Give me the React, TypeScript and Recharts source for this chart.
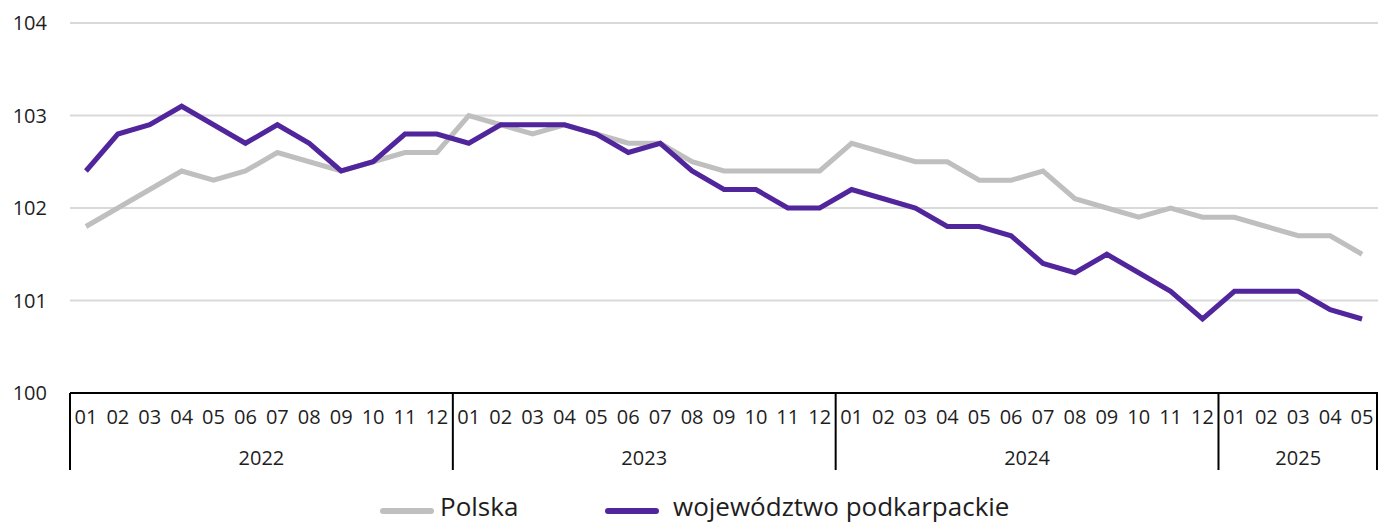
import React from "react";
import { LineChart, Line, XAxis, YAxis, CartesianGrid, Legend } from "recharts";

const categories = [
  "2022-01", "2022-02", "2022-03", "2022-04", "2022-05", "2022-06", "2022-07", "2022-08", "2022-09", "2022-10", "2022-11", "2022-12",
  "2023-01", "2023-02", "2023-03", "2023-04", "2023-05", "2023-06", "2023-07", "2023-08", "2023-09", "2023-10", "2023-11", "2023-12",
  "2024-01", "2024-02", "2024-03", "2024-04", "2024-05", "2024-06", "2024-07", "2024-08", "2024-09", "2024-10", "2024-11", "2024-12",
  "2025-01", "2025-02", "2025-03", "2025-04", "2025-05",
];

const polska = [
  101.8, 102.0, 102.2, 102.4, 102.3, 102.4, 102.6, 102.5, 102.4, 102.5, 102.6, 102.6,
  103.0, 102.9, 102.8, 102.9, 102.8, 102.7, 102.7, 102.5, 102.4, 102.4, 102.4, 102.4,
  102.7, 102.6, 102.5, 102.5, 102.3, 102.3, 102.4, 102.1, 102.0, 101.9, 102.0, 101.9,
  101.9, 101.8, 101.7, 101.7, 101.5,
];

const podkarpackie = [
  102.4, 102.8, 102.9, 103.1, 102.9, 102.7, 102.9, 102.7, 102.4, 102.5, 102.8, 102.8,
  102.7, 102.9, 102.9, 102.9, 102.8, 102.6, 102.7, 102.4, 102.2, 102.2, 102.0, 102.0,
  102.2, 102.1, 102.0, 101.8, 101.8, 101.7, 101.4, 101.3, 101.5, 101.3, 101.1, 100.8,
  101.1, 101.1, 101.1, 100.9, 100.8,
];

const yTicks = [100, 101, 102, 103, 104];
const seriesNames = ["Polska", "województwo podkarpackie"];
const seriesColors = ["#bfbfbf", "#51259b"];

const data = categories.map((c, i) => ({
  cat: c,
  month: c.slice(5),
  year: c.slice(0, 4),
  polska: polska[i],
  podkarpackie: podkarpackie[i],
}));

const W = 1379;
const H = 522;
const LEFT = 70;
const RIGHT = 1;
const BAND = (W - LEFT - RIGHT) / categories.length;
const FONT = "'Open Sans', 'Liberation Sans', sans-serif";
const TEXT = "#1e1e1e";

const yearFirst: Record<string, number> = {};
const yearCount: Record<string, number> = {};
data.forEach((d, i) => {
  if (yearFirst[d.year] === undefined) yearFirst[d.year] = i;
  yearCount[d.year] = (yearCount[d.year] || 0) + 1;
});

function XTick(props: any) {
  const { x, y, payload } = props;
  const i = payload && payload.index !== undefined ? payload.index : props.index;
  const d = data[i];
  if (!d) return null;
  const isFirst = yearFirst[d.year] === i;
  const isLast = i === data.length - 1;
  const lineLen = 77;
  return (
    <g>
      <text x={x} y={y + 31} textAnchor="middle" fontSize={20} fontFamily={FONT} fill={TEXT}>
        {d.month}
      </text>
      {isFirst && (
        <>
          <line x1={x - BAND / 2} x2={x - BAND / 2} y1={y} y2={y + lineLen} stroke="#000" strokeWidth={2} />
          <text
            x={x + ((yearCount[d.year] - 1) / 2) * BAND}
            y={y + 72}
            textAnchor="middle"
            fontSize={20}
            fontFamily={FONT}
            fill={TEXT}
          >
            {d.year}
          </text>
        </>
      )}
      {isLast && (
        <line x1={x + BAND / 2 - 1} x2={x + BAND / 2 - 1} y1={y} y2={y + lineLen} stroke="#000" strokeWidth={2} />
      )}
    </g>
  );
}

function YTick(props: any) {
  const { y, payload } = props;
  return (
    <text x={47} y={y} dy="0.36em" textAnchor="end" fontSize={20} fontFamily={FONT} fill={TEXT}>
      {payload.value}
    </text>
  );
}

function LegendContent() {
  const items = [
    { name: seriesNames[0], color: seriesColors[0], lineLeft: 380, textLeft: 440 },
    { name: seriesNames[1], color: seriesColors[1], lineLeft: 605, textLeft: 673 },
  ];
  return (
    <div style={{ position: "relative", width: W, height: 39 }}>
      {items.map((it) => (
        <React.Fragment key={it.name}>
          <div
            style={{
              position: "absolute",
              left: it.lineLeft,
              top: 25,
              width: 54,
              height: 6,
              borderRadius: 3,
              background: it.color,
            }}
          />
          <div
            style={{
              position: "absolute",
              left: it.textLeft,
              top: 8,
              fontFamily: FONT,
              fontSize: 26,
              lineHeight: "30px",
              color: TEXT,
              whiteSpace: "nowrap",
            }}
          >
            {it.name}
          </div>
        </React.Fragment>
      ))}
    </div>
  );
}

export default function App() {
  return (
    <div style={{ position: "absolute", left: 0, top: 0, width: W, height: H, background: "#fff" }}>
      <LineChart width={W} height={H} data={data} margin={{ top: 23, right: RIGHT, left: 0, bottom: 0 }}>
        <CartesianGrid horizontal vertical={false} stroke="#d9d9d9" strokeWidth={2} />
        <XAxis
          dataKey="cat"
          interval={0}
          height={90}
          padding={{ left: BAND / 2, right: BAND / 2 }}
          tickLine={false}
          tickSize={0}
          tickMargin={0}
          axisLine={{ stroke: "#000", strokeWidth: 2 }}
          tick={<XTick />}
        />
        <YAxis
          width={LEFT}
          domain={[100, 104]}
          ticks={yTicks}
          axisLine={false}
          tickLine={false}
          tick={<YTick />}
        />
        <Legend verticalAlign="bottom" content={<LegendContent />} wrapperStyle={{ left: 0, width: W }} />
        <Line
          type="linear"
          dataKey="polska"
          name={seriesNames[0]}
          stroke={seriesColors[0]}
          strokeWidth={5}
          dot={false}
          isAnimationActive={false}
        />
        <Line
          type="linear"
          dataKey="podkarpackie"
          name={seriesNames[1]}
          stroke={seriesColors[1]}
          strokeWidth={5}
          dot={false}
          isAnimationActive={false}
        />
      </LineChart>
    </div>
  );
}
